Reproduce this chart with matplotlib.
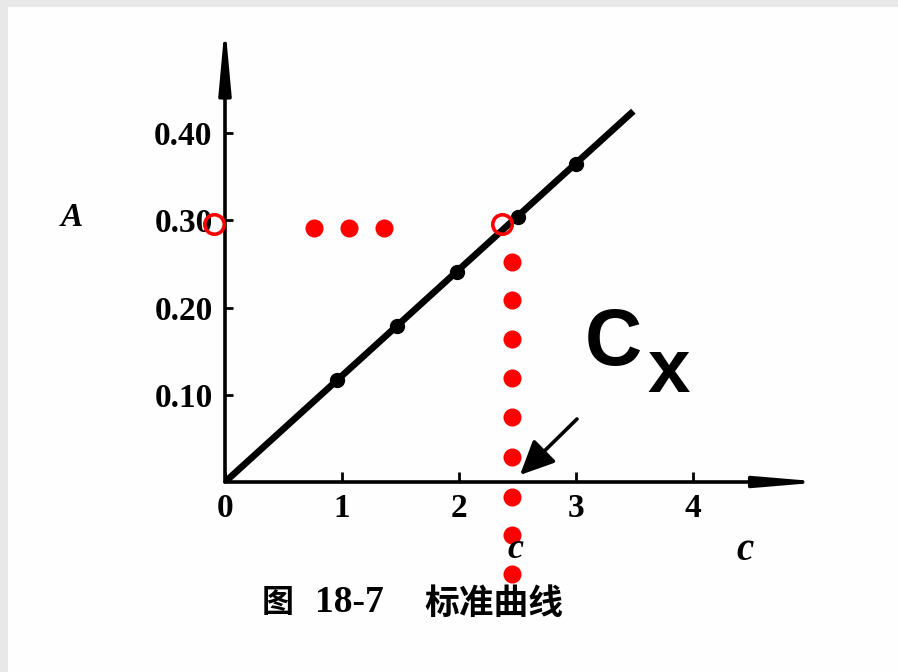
import matplotlib
matplotlib.use("Agg")
import matplotlib.pyplot as plt
from matplotlib.patches import Rectangle

# ---- data ----
x_ticks = [0, 1, 2, 3, 4]
x_tick_labels = ["0", "1", "2", "3", "4"]
y_ticks = [0.10, 0.20, 0.30, 0.40]
y_tick_labels = ["0.10", "0.20", "0.30", "0.40"]

line_c = [0.0, 3.49]
line_A = [0.0, 0.425]
std_c = [0.96, 1.47, 1.98, 2.50, 3.00]
std_A = [0.117, 0.179, 0.241, 0.304, 0.365]

cx_value = 2.45
ax_value = 0.291
h_dots_c = [0.76, 1.06, 1.36]
v_dots_A = [0.252, 0.209, 0.164, 0.119, 0.075, 0.029, -0.017, -0.061, -0.105]
open_c = [-0.094, 2.37]
open_A = [0.296, 0.296]

caption_fig = "图"
caption_num = "18-7"
caption_title = "标准曲线"

W, H = 898, 672
fig = plt.figure(figsize=(W / 100, H / 100), dpi=100)
fig.patch.set_facecolor("#fefefe")

# grey frame bands (top and left)
fig.patches.append(Rectangle((0, 1 - 7 / H), 1, 7 / H, transform=fig.transFigure,
                             facecolor="#e8e8e8", edgecolor="none", zorder=0))
fig.patches.append(Rectangle((0, 0), 8 / W, 1, transform=fig.transFigure,
                             facecolor="#e8e8e8", edgecolor="none", zorder=0))

# axes geometry: c=0 at x=225px, 117 px per unit ; A=0 at y=482px, 872.5 px per unit
x0, y0 = 225, 482
xpu, ypu = 117.0, 872.5
xmax, ymax = 5.12, 0.525
ax = fig.add_axes([x0 / W, (H - y0) / H, xpu * xmax / W, ypu * ymax / H])
ax.set_xlim(0, xmax)
ax.set_ylim(0, ymax)
ax.patch.set_alpha(0)
for s in ax.spines.values():
    s.set_visible(False)

# axes with arrow heads
ax.annotate("", xy=(1, 0), xytext=(0, 0), xycoords="axes fraction",
            arrowprops=dict(arrowstyle="-|>,head_length=3.8,head_width=0.32",
                            mutation_scale=10, lw=2.6, color="black",
                            shrinkA=0, shrinkB=0))
ax.annotate("", xy=(0, 1), xytext=(0, 0), xycoords="axes fraction",
            arrowprops=dict(arrowstyle="-|>,head_length=3.9,head_width=0.36",
                            mutation_scale=10, lw=2.6, color="black",
                            shrinkA=0, shrinkB=0))

ax.set_xticks(x_ticks)
ax.set_xticklabels(x_tick_labels)
ax.set_yticks(y_ticks)
ax.set_yticklabels(y_tick_labels)
ax.tick_params(axis="x", direction="in", length=7, width=2, pad=8)
ax.tick_params(axis="y", direction="in", length=6, width=2, pad=9)
for lab in ax.get_xticklabels() + ax.get_yticklabels():
    lab.set_fontfamily("Liberation Serif")
    lab.set_fontweight("bold")
    lab.set_fontsize(24)

# standard curve
ax.plot(line_c, line_A, color="black", lw=4.8, solid_capstyle="butt", zorder=3)
ax.plot(std_c, std_A, "o", color="black", ms=10, zorder=4)

# red annotation dots
ax.plot(h_dots_c, [ax_value] * len(h_dots_c), "o", color="#ff0000", ms=13,
        mec="none", zorder=6, clip_on=False)
ax.plot([cx_value] * len(v_dots_A), v_dots_A, "o", color="#ff0000", ms=13,
        mec="none", zorder=6, clip_on=False)
ax.plot(open_c, open_A, "o", mfc="none", mec="#ff0000", mew=2.6, ms=14,
        zorder=7, clip_on=False)

# axis letters
fig.text(72 / W, 1 - 218 / H, "A", fontfamily="Liberation Serif", fontstyle="italic",
         fontweight="bold", fontsize=24, ha="center", va="center")
fig.text(745 / W, 1 - 551 / H, "c", fontfamily="Liberation Serif", fontstyle="italic",
         fontweight="bold", fontsize=28, ha="center", va="center")
fig.text(515 / W, 1 - 549 / H, "c", fontfamily="Liberation Serif", fontstyle="italic",
         fontweight="bold", fontsize=26, ha="center", va="center", zorder=1)

# Cx label
fig.text(585 / W, 1 - 365 / H, "C", fontfamily="Liberation Sans", fontweight="bold",
         fontsize=57, ha="left", va="baseline")
fig.text(647 / W, 1 - 392 / H, "x", fontfamily="Liberation Sans", fontweight="bold",
         fontsize=55, ha="left", va="baseline")

# arrow pointing to Cx on the axis
ax.annotate("", xy=(520 / W, 1 - 475 / H), xytext=(577 / W, 1 - 419 / H),
            xycoords="figure fraction", textcoords="figure fraction",
            arrowprops=dict(arrowstyle="-|>,head_length=1.5,head_width=0.7",
                            mutation_scale=14, lw=2.6, color="black",
                            shrinkA=0, shrinkB=0))

# caption
cjk = ["Noto Sans CJK SC", "DejaVu Sans"]
fig.text(262 / W, 1 - 603 / H, caption_fig, fontfamily=cjk, fontweight="bold",
         fontsize=23, ha="left", va="center")
fig.text(315 / W, 1 - 603 / H, caption_num, fontfamily="Liberation Serif", fontweight="bold",
         fontsize=27, ha="left", va="center")
fig.text(424 / W, 1 - 603 / H, caption_title, fontfamily=cjk, fontweight="bold",
         fontsize=25, ha="left", va="center")

fig.savefig("out.png", dpi=100, facecolor=fig.get_facecolor())
